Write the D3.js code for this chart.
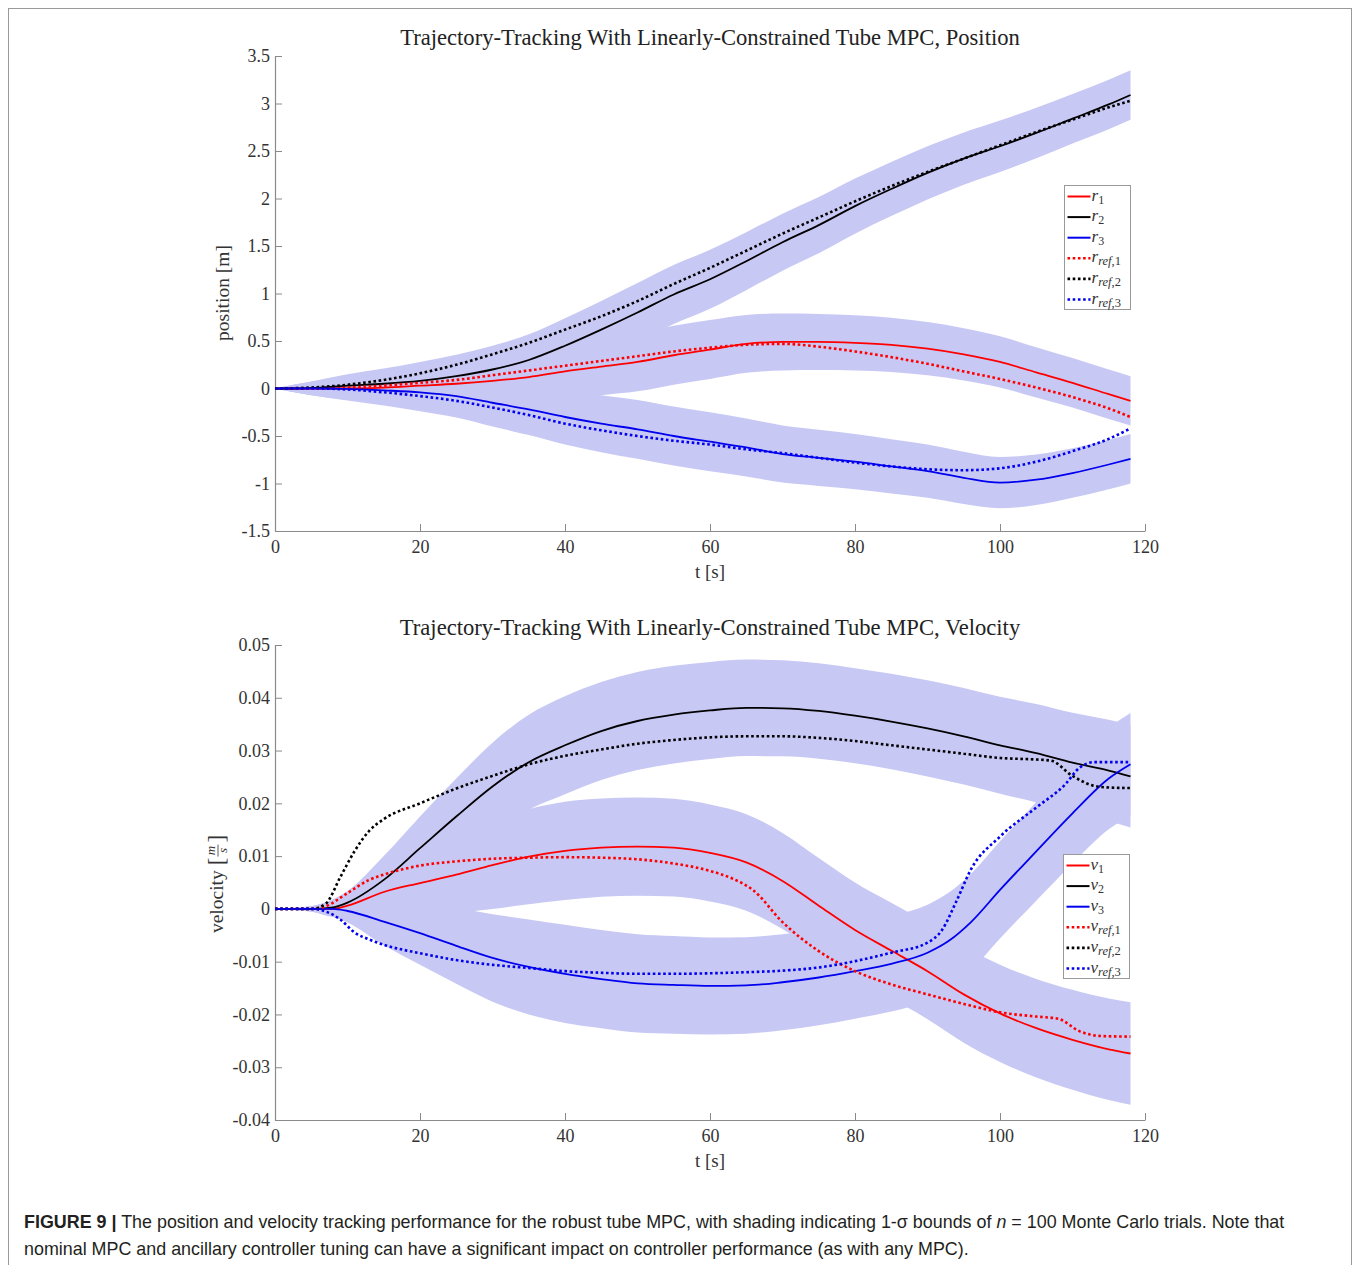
<!DOCTYPE html>
<html><head><meta charset="utf-8">
<script src="https://cdn.jsdelivr.net/npm/d3@7"></script>
<style>body{margin:0;background:#fff}</style>
</head><body>
<svg id="c" width="1354" height="1265" xmlns="http://www.w3.org/2000/svg"></svg>
<script>
// ---------- DATA ----------
const xTicks = [0, 20, 40, 60, 80, 100, 120];
const posTicks = [3.5, 3, 2.5, 2, 1.5, 1, 0.5, 0, -0.5, -1, -1.5];
const velTicks = [0.05, 0.04, 0.03, 0.02, 0.01, 0, -0.01, -0.02, -0.03, -0.04];

// position [m] : [t, value]
const r1 = [[0,0],[5,0],[10,0],[15,0.01],[20,0.03],[25,0.05],[30,0.08],[35,0.12],[40,0.18],[45,0.23],[50,0.28],[55,0.35],[60,0.41],[65,0.47],[70,0.49],[75,0.49],[80,0.48],[85,0.46],[90,0.42],[95,0.36],[100,0.28],[105,0.17],[110,0.06],[115,-0.06],[118,-0.13]];
const r2 = [[0,0],[5,0.005],[10,0.03],[15,0.05],[20,0.08],[25,0.13],[30,0.2],[35,0.3],[40,0.45],[45,0.62],[50,0.8],[55,0.99],[60,1.15],[65,1.34],[70,1.54],[75,1.72],[80,1.92],[85,2.1],[90,2.27],[95,2.42],[100,2.55],[105,2.69],[110,2.84],[115,2.99],[118,3.09]];
const r3 = [[0,0],[5,0],[10,-0.005],[15,-0.02],[20,-0.04],[25,-0.08],[30,-0.15],[35,-0.22],[40,-0.3],[45,-0.37],[50,-0.43],[55,-0.5],[60,-0.56],[65,-0.62],[70,-0.69],[75,-0.73],[80,-0.77],[85,-0.82],[90,-0.87],[95,-0.94],[100,-0.99],[105,-0.96],[110,-0.89],[115,-0.8],[118,-0.74]];
const rRef1 = [[0,0],[5,0],[10,0.01],[15,0.03],[20,0.06],[25,0.09],[30,0.14],[35,0.19],[40,0.24],[45,0.29],[50,0.34],[55,0.39],[60,0.43],[65,0.46],[70,0.47],[75,0.44],[80,0.39],[85,0.33],[90,0.26],[95,0.18],[100,0.1],[105,0.01],[110,-0.09],[115,-0.21],[118,-0.3]];
const rRef2 = [[0,0],[5,0.01],[10,0.04],[15,0.09],[20,0.16],[25,0.25],[30,0.36],[35,0.48],[40,0.62],[45,0.76],[50,0.92],[55,1.1],[60,1.27],[65,1.45],[70,1.63],[75,1.8],[80,1.97],[85,2.13],[90,2.28],[95,2.42],[100,2.56],[105,2.7],[110,2.83],[115,2.96],[118,3.03]];
const rRef3 = [[0,0],[5,0],[10,-0.01],[15,-0.04],[20,-0.08],[25,-0.13],[30,-0.2],[35,-0.28],[40,-0.37],[45,-0.44],[50,-0.5],[55,-0.55],[60,-0.59],[65,-0.64],[70,-0.68],[75,-0.73],[80,-0.78],[85,-0.82],[90,-0.85],[95,-0.86],[100,-0.84],[105,-0.77],[110,-0.66],[115,-0.53],[118,-0.42]];
const posSigma = [[0,0],[5,0.07],[10,0.12],[15,0.16],[20,0.2],[30,0.25],[40,0.29],[50,0.31],[60,0.31],[70,0.3],[80,0.29],[90,0.28],[100,0.27],[110,0.26],[118,0.26]];

// velocity [m/s] : [t, value]
const v1 = [[0,0],[5,0],[8,0],[10,0.0006],[15,0.0032],[20,0.0049],[25,0.0065],[30,0.0083],[35,0.0099],[40,0.011],[45,0.0116],[50,0.0118],[55,0.0116],[60,0.0106],[65,0.0088],[70,0.0053],[75,0.0006],[80,-0.004],[85,-0.0079],[90,-0.0118],[95,-0.0162],[100,-0.0198],[105,-0.0226],[110,-0.0248],[115,-0.0266],[118,-0.0274]];
const v2 = [[0,0],[5,0],[8,0.0003],[10,0.0012],[15,0.0055],[20,0.0115],[25,0.0175],[30,0.0232],[35,0.0278],[40,0.031],[45,0.0337],[50,0.0356],[55,0.0368],[60,0.0376],[65,0.0381],[70,0.038],[75,0.0375],[80,0.0366],[85,0.0355],[90,0.0342],[95,0.0327],[100,0.031],[105,0.0295],[110,0.0277],[115,0.0262],[118,0.0251]];
const v3 = [[0,0],[5,0],[8,0],[10,-0.0004],[15,-0.0024],[20,-0.0046],[25,-0.007],[30,-0.0093],[35,-0.011],[40,-0.0123],[45,-0.0133],[50,-0.0141],[55,-0.0144],[60,-0.0146],[65,-0.0145],[70,-0.0139],[75,-0.013],[80,-0.0118],[85,-0.0104],[90,-0.0083],[93,-0.006],[96,-0.0025],[100,0.0036],[105,0.0109],[110,0.0181],[115,0.0247],[118,0.0274]];
const vRef1 = [[0,0],[5,0],[7,0.0005],[10,0.003],[13,0.0055],[15,0.0065],[20,0.0082],[25,0.009],[30,0.0095],[35,0.0097],[40,0.0098],[45,0.0097],[50,0.0094],[55,0.0086],[60,0.0072],[63,0.0058],[66,0.0035],[70,-0.0025],[75,-0.008],[80,-0.0118],[85,-0.0143],[90,-0.0162],[95,-0.018],[100,-0.0196],[105,-0.0204],[108,-0.0208],[111,-0.0232],[114,-0.0241],[118,-0.0242]];
const vRef2 = [[0,0],[5,0],[7,0.001],[9,0.006],[11,0.011],[13,0.0148],[15,0.017],[20,0.02],[25,0.0228],[30,0.0252],[35,0.0274],[40,0.029],[45,0.0302],[50,0.0313],[55,0.032],[60,0.0325],[65,0.0327],[70,0.0327],[75,0.0324],[80,0.0318],[85,0.031],[90,0.0302],[95,0.0294],[100,0.0286],[105,0.0283],[107,0.0281],[110,0.0252],[113,0.0233],[115,0.023],[118,0.0229]];
const vRef3 = [[0,0],[5,0],[7,-0.0005],[9,-0.002],[11,-0.0045],[13,-0.0058],[15,-0.0068],[20,-0.0084],[25,-0.0097],[30,-0.0106],[35,-0.0112],[40,-0.0118],[45,-0.0121],[50,-0.0123],[55,-0.0123],[60,-0.0122],[65,-0.012],[70,-0.0117],[75,-0.0111],[80,-0.0099],[85,-0.0083],[90,-0.0064],[92,-0.004],[94,0.0015],[96,0.0075],[100,0.0137],[105,0.0192],[109,0.0236],[111,0.0268],[113,0.0278],[118,0.0278]];
const velSigma = [[0,0],[5,0.0005],[10,0.0022],[15,0.0045],[20,0.006],[25,0.0072],[30,0.0083],[35,0.009],[40,0.0093],[50,0.0093],[60,0.0092],[80,0.009],[100,0.0092],[118,0.0097]];

const titles = ["Trajectory-Tracking With Linearly-Constrained Tube MPC, Position",
                "Trajectory-Tracking With Linearly-Constrained Tube MPC, Velocity"];

// ---------- DRAW ----------
const svg = d3.select('#c');
const SERIF = "'Liberation Serif','DejaVu Serif',serif";
const BAND = '#c8c8f5';
const COLORS = ['#ff0000', '#000000', '#0000ee'];
const X0 = 275, X1 = 1145;

// outer frame
svg.append('rect').attr('x', 8.5).attr('y', 8.5).attr('width', 1343).attr('height', 1280)
  .attr('fill', 'none').attr('stroke', '#9a9a9a').attr('stroke-width', 1);

function chart(o) {
  const x = d3.scaleLinear().domain([0, 120]).range([X0, X1]);
  const y = d3.scaleLinear().domain(o.yDomain).range([o.yBottom, o.yTop]);
  const sig = d3.scaleLinear().domain(o.sigma.map(d => d[0])).range(o.sigma.map(d => d[1]));
  const g = svg.append('g');

  // shaded 1-sigma tubes
  o.solid.forEach(s => {
    const area = d3.area().x(d => x(d[0]))
      .y0(d => y(d[1] - sig(d[0]))).y1(d => y(d[1] + sig(d[0])))
      .curve(d3.curveMonotoneX);
    g.append('path').attr('d', area(s)).attr('fill', BAND).attr('stroke', 'none');
  });

  // axes
  const ya = g.append('g').attr('transform', `translate(${X0},0)`)
    .call(d3.axisLeft(y).tickValues(o.ticks).tickSize(-7).tickSizeOuter(0).tickPadding(5).tickFormat(d => String(d)));
  const xa = g.append('g').attr('transform', `translate(0,${o.yBottom})`)
    .call(d3.axisBottom(x).tickValues(xTicks).tickSize(-7).tickSizeOuter(0).tickPadding(9).tickFormat(d => String(d)));
  [ya, xa].forEach(a => {
    a.select('.domain').attr('stroke', '#8a8a8a').attr('stroke-width', 1.2);
    a.selectAll('.tick line').attr('stroke', '#8a8a8a').attr('stroke-width', 1);
    a.selectAll('.tick text').attr('font-family', SERIF).attr('font-size', 18).attr('fill', '#333');
  });

  // lines
  const line = d3.line().x(d => x(d[0])).y(d => y(d[1])).curve(d3.curveMonotoneX);
  o.solid.forEach((s, i) => {
    g.append('path').attr('d', line(s)).attr('fill', 'none').attr('stroke', COLORS[i]).attr('stroke-width', 1.8);
  });
  o.refs.forEach((s, i) => {
    g.append('path').attr('d', line(s)).attr('fill', 'none').attr('stroke', COLORS[i])
      .attr('stroke-width', 2.6).attr('stroke-dasharray', '2.6,2.6');
  });

  // title
  g.append('text').attr('x', 710).attr('y', o.titleY).attr('text-anchor', 'middle')
    .attr('font-family', SERIF).attr('font-size', 22.6).attr('fill', '#222').text(o.title);

  // x label
  g.append('text').attr('x', 710).attr('y', o.yBottom + 47).attr('text-anchor', 'middle')
    .attr('font-family', SERIF).attr('font-size', 19).attr('fill', '#333').text('t [s]');

  // legend
  const L = o.legend;
  g.append('rect').attr('x', L.x).attr('y', L.y).attr('width', 66).attr('height', 124)
    .attr('fill', '#fff').attr('stroke', '#999').attr('stroke-width', 1);
  const names = ['1', '2', '3', 'ref,1', 'ref,2', 'ref,3'];
  names.forEach((n, i) => {
    const yy = L.y + 11 + i * 20.6;
    const c = COLORS[i % 3];
    const l = g.append('line').attr('x1', L.x + 3).attr('x2', L.x + 26).attr('y1', yy).attr('y2', yy)
      .attr('stroke', c);
    if (i < 3) l.attr('stroke-width', 2);
    else l.attr('stroke-width', 2.6).attr('stroke-dasharray', '2.6,2.6');
    const t = g.append('text').attr('x', L.x + 27).attr('y', yy + 4)
      .attr('font-family', SERIF).attr('fill', '#333');
    t.append('tspan').attr('font-style', 'italic').attr('font-size', 17).text(o.sym);
    if (i < 3) {
      t.append('tspan').attr('font-size', 12).attr('dy', 3).text(n);
    } else {
      t.append('tspan').attr('font-size', 12.5).attr('dy', 3).attr('font-style', 'italic').text('ref');
      t.append('tspan').attr('font-size', 12.5).text(',' + n.slice(4));
    }
  });
  return g;
}

chart({ yDomain: [-1.5, 3.5], yTop: 56, yBottom: 531, ticks: posTicks, sigma: posSigma,
  solid: [r1, r2, r3], refs: [rRef1, rRef2, rRef3], title: titles[0], titleY: 45,
  legend: { x: 1064.5, y: 185.5 }, sym: 'r' });

chart({ yDomain: [-0.04, 0.05], yTop: 645, yBottom: 1120, ticks: velTicks, sigma: velSigma,
  solid: [v1, v2, v3], refs: [vRef1, vRef2, vRef3], title: titles[1], titleY: 635,
  legend: { x: 1063.5, y: 854.5 }, sym: 'v' });

// y labels
svg.append('text').attr('transform', 'translate(229,293) rotate(-90)').attr('text-anchor', 'middle')
  .attr('font-family', SERIF).attr('font-size', 19.5).attr('fill', '#333').text('position [m]');

const vl = svg.append('g').attr('transform', 'translate(223,0) rotate(-90)').attr('font-family', SERIF).attr('fill', '#333');
const vt = vl.append('text').attr('font-size', 19.5).attr('x', 0).attr('y', 0).text('velocity');
const w1 = vt.node().getComputedTextLength();
const b1 = vl.append('text').attr('font-size', 23).attr('x', w1 + 5).attr('y', 1).text('[');
const bw = b1.node().getComputedTextLength();
const fx = w1 + 5 + bw + 1;
vl.append('text').attr('font-size', 13).attr('font-style', 'italic').attr('x', fx + 6).attr('y', -8).attr('text-anchor', 'middle').text('m');
vl.append('line').attr('x1', fx).attr('x2', fx + 12).attr('y1', -5).attr('y2', -5).attr('stroke', '#333').attr('stroke-width', 0.8);
vl.append('text').attr('font-size', 13).attr('font-style', 'italic').attr('x', fx + 6).attr('y', 4).attr('text-anchor', 'middle').text('s');
const b2 = vl.append('text').attr('font-size', 23).attr('x', fx + 14).attr('y', 1).text(']');
const total = fx + 14 + b2.node().getComputedTextLength();
vl.attr('transform', `translate(223,${884 + total / 2}) rotate(-90)`);

// caption
const cap = svg.append('g').attr('font-family', "'Liberation Sans',Arial,sans-serif").attr('font-size', 17.9).attr('fill', '#231f20');
const c1 = cap.append('text').attr('x', 24).attr('y', 1228);
c1.append('tspan').attr('font-weight', 'bold').text('FIGURE 9 |');
c1.append('tspan').text(' The position and velocity tracking performance for the robust tube MPC, with shading indicating 1-σ bounds of ');
c1.append('tspan').attr('font-style', 'italic').text('n');
c1.append('tspan').text(' = 100 Monte Carlo trials. Note that');
cap.append('text').attr('x', 24).attr('y', 1255)
  .text('nominal MPC and ancillary controller tuning can have a significant impact on controller performance (as with any MPC).');
</script>
</body></html>
